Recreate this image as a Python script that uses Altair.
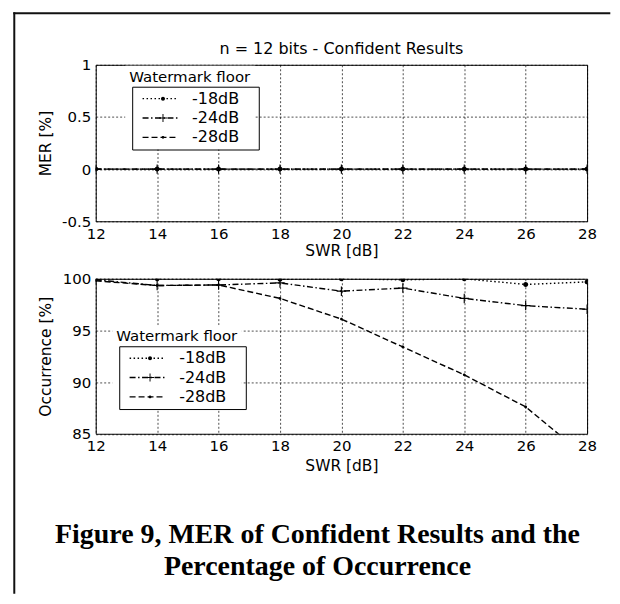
import altair as alt
import pandas as pd

# ---- data ----
swr = [12, 14, 16, 18, 20, 22, 24, 26, 28]
floors = ["-18dB", "-24dB", "-28dB"]
mer_18 = [0, 0, 0, 0, 0, 0, 0, 0, 0]
mer_24 = [0, 0, 0, 0, 0, 0, 0, 0, 0]
mer_28 = [0, 0, 0, 0, 0, 0, 0, 0, 0]
occ_18 = [100, 100, 100, 99.95, 100, 99.9, 100, 99.45, 99.7]
occ_24 = [99.9, 99.35, 99.4, 99.6, 98.8, 99.1, 98.1, 97.4, 97.05]
occ_28 = [99.8, 99.35, 99.4, 98.1, 96.1, 93.4, 90.7, 87.6, 82.7]
mer_ticks = [-0.5, 0, 0.5, 1]
occ_ticks = [85, 90, 95, 100]
swr_ticks = [12, 14, 16, 18, 20, 22, 24, 26, 28]
title_text = "n = 12 bits - Confident Results"
caption = ["Figure 9, MER of Confident Results and the", "Percentage of Occurrence"]

# ---- styles ----
dash_styles = [[1.5, 2.5], [6, 2.5, 1.5, 2.5], [6, 3]]


def circle_path(r):
    return f"M{r},0A{r},{r} 0 1,1 -{r},0A{r},{r} 0 1,1 {r},0Z"


plus_path = "M-1,-0.12H-0.12V-1H0.12V-0.12H1V0.12H0.12V1H-0.12V0.12H-1Z"
marker_shapes = [circle_path(0.5), plus_path, circle_path(0.35)]
marker_sizes = [100, 90, 64]

rows = []
for f, m, o, s in zip(floors, [mer_18, mer_24, mer_28], [occ_18, occ_24, occ_28], marker_sizes):
    for xv, mv, ov in zip(swr, m, o):
        rows.append({"swr": xv, "mer": mv, "occ": ov, "floor": f, "floor_m": f, "msize": s})
df = pd.DataFrame(rows)

FONT = "DejaVu Sans"
W = 493
H_TOP = 157
H_BOT = 155.5


def dash_legend(lx, ly):
    return alt.Legend(
        orient="none", legendX=lx - 7, legendY=ly - 21,
        title="Watermark floor", titleFont=FONT, titleFontSize=15, titleFontWeight="normal",
        titleColor="black", titlePadding=6, titleLimit=400,
        padding=4, fillColor="white", clipHeight=16,
        symbolType="stroke", symbolSize=1225, symbolStrokeWidth=1.4,
        symbolStrokeColor="black", symbolOffset=12.4,
        labelOffset=13.7, labelFont=FONT, labelFontSize=16, labelColor="black",
        rowPadding=3.4,
    )


def marker_legend(lx, ly):
    return alt.Legend(
        orient="none", legendX=lx, legendY=ly, title=None,
        padding=4, strokeColor="black", clipHeight=16,
        symbolSize=64, symbolOffset=18.9, symbolFillColor="black",
        symbolStrokeColor="black", symbolStrokeWidth=0,
        labelOffset=83.5, labelFont=FONT, labelFontSize=16,
        labelExpr="'\u00a0'",
        rowPadding=3.4,
    )


def x_enc(title_y):
    return alt.X(
        "swr:Q",
        scale=alt.Scale(domain=[12, 28], nice=False, zero=False),
        axis=alt.Axis(values=swr_ticks, title="SWR [dB]", labelFlush=False,
                      titleY=title_y, titleBaseline="middle"),
    )


def panel(field, ydomain, yticks, ytitle, height, lx, ly, xtitle_y):
    y = alt.Y(
        f"{field}:Q",
        scale=alt.Scale(domain=ydomain, nice=False, zero=False),
        axis=alt.Axis(values=yticks, title=ytitle, labelExpr="'' + datum.value",
                      titleX=-50, titleY=height / 2, titleAngle=270,
                      titleAlign="center", titleBaseline="middle"),
    )
    lines = alt.Chart(df).mark_line(color="black", strokeWidth=1.4, clip=True).encode(
        x=x_enc(xtitle_y), y=y,
        strokeDash=alt.StrokeDash("floor:N", scale=alt.Scale(domain=floors, range=dash_styles),
                                  legend=dash_legend(lx, ly)),
    )
    points = alt.Chart(df).mark_point(filled=True, color="black", strokeWidth=0,
                                      opacity=1, clip=True).encode(
        x=x_enc(xtitle_y), y=y,
        shape=alt.Shape("floor_m:N", scale=alt.Scale(range=marker_shapes),
                        legend=marker_legend(lx, ly)),
        size=alt.Size("msize:Q", scale=None, legend=None),
    )
    return lines, points


one = pd.DataFrame({"k": [0]})
frame_top = alt.Chart(one).mark_rule(color="#111111", strokeWidth=2).encode(
    x=alt.value(-82.7), x2=alt.value(516.3), y=alt.value(-51.6))
frame_left = alt.Chart(one).mark_rule(color="#111111", strokeWidth=2).encode(
    x=alt.value(-81.7), y=alt.value(-52.6), y2=alt.value(530.7))
title_mark = alt.Chart(one).mark_text(
    font=FONT, fontSize=16, color="black", align="center", baseline="middle"
).encode(x=alt.value(W / 2), y=alt.value(-16.3), text=alt.value(title_text))

l1, p1 = panel("mer", [-0.5, 1], mer_ticks, "MER [%]", H_TOP, 36.6, 22, 29)
top = alt.layer(l1, p1, frame_top, frame_left, title_mark).properties(width=W, height=H_TOP)

l2, p2 = panel("occ", [85, 100], occ_ticks, "Occurrence [%]", H_BOT, 23.6, 67.7, 31.5)
bottom = alt.layer(l2, p2).properties(
    width=W, height=H_BOT,
    title=alt.TitleParams(caption, orient="bottom", anchor="middle", frame="group", dx=-24,
                          offset=48, font="Liberation Serif", fontSize=28, fontWeight="bold",
                          color="black", lineHeight=32),
)

chart = alt.vconcat(top, bottom, spacing=57.7, bounds="flush").resolve_scale(
    strokeDash="independent", shape="independent"
).resolve_legend(strokeDash="independent", shape="independent").properties(
    padding={"left": 3, "top": 1, "right": 0, "bottom": 0},
    background="white",
).configure_view(stroke="black", strokeWidth=1).configure_axis(
    grid=True, gridColor="black", gridDash=[2, 2], gridWidth=0.7, gridOpacity=1,
    domain=False, ticks=False, labelFont=FONT, labelFontSize=15, labelColor="black",
    labelPadding=5, titleFont=FONT, titleFontSize=15.5, titleFontWeight="normal",
    titleColor="black",
)

chart.save("out.html", embed_options={"renderer": "svg", "actions": False})
